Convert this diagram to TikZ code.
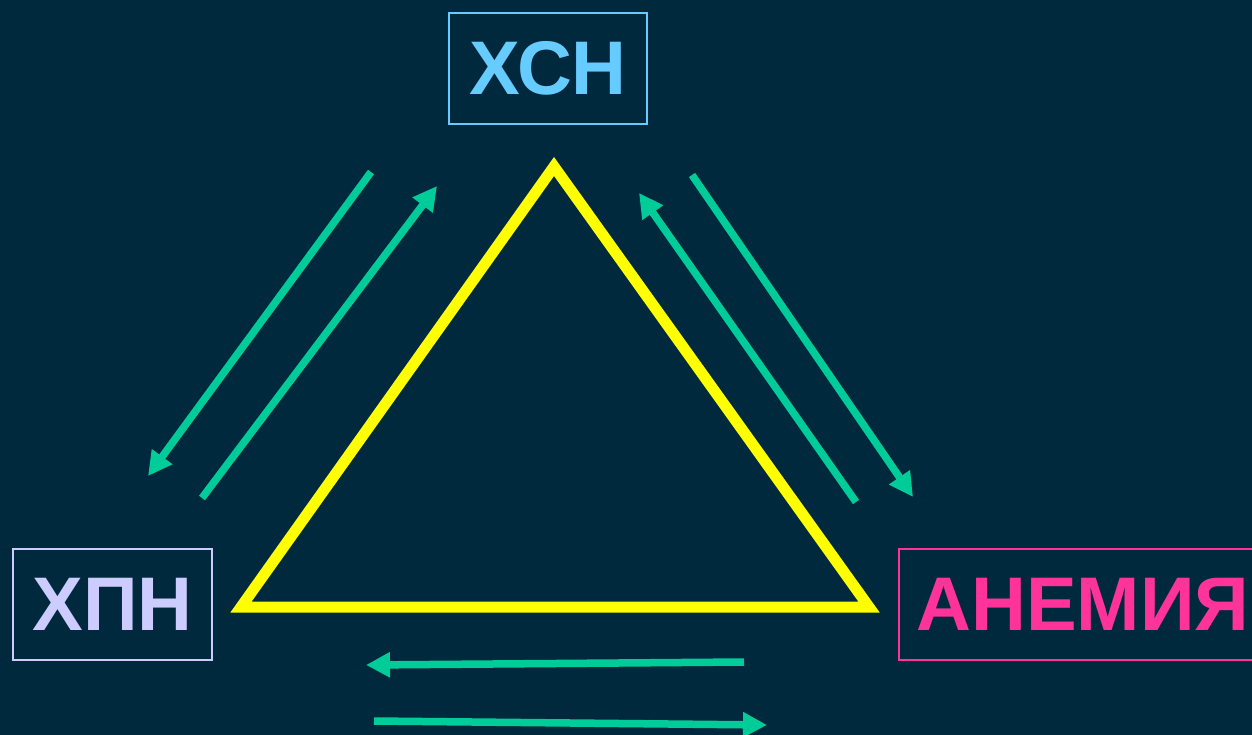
\documentclass[tikz,border=0pt]{standalone}
\usepackage{fontspec}
\setmainfont{Liberation Sans}
\usetikzlibrary{arrows.meta}
\definecolor{bg}{HTML}{00293D}
\definecolor{arrowgreen}{HTML}{00CC99}
\definecolor{triyellow}{HTML}{FFFF00}
\definecolor{csnblue}{HTML}{66CCFF}
\definecolor{hpnlav}{HTML}{CCCCFF}
\definecolor{anpink}{HTML}{FF3399}
\tikzset{
  labelbox/.style={draw, line width=2pt, minimum height=111pt, inner sep=0pt,
    font=\fontsize{76}{80}\selectfont\bfseries},
  flow/.style={draw=arrowgreen, line width=7.5pt,
    -{Triangle[length=24pt,width=24pt]}, arrowgreen}
}
\begin{document}
\begin{tikzpicture}[x=1pt,y=-1pt]
\fill[bg] (0,0) rectangle (1252,735);
\useasboundingbox (0,0) rectangle (1252,735);
\clip (0,0) rectangle (1252,735);
% boxes
\node[labelbox, draw=csnblue, text=csnblue, minimum width=198pt] (csn) at (548,68.5) {ХСН};
\node[labelbox, draw=hpnlav, text=hpnlav, minimum width=199pt] (hpn) at (112.5,604.5) {ХПН};
\node[labelbox, draw=anpink, text=anpink, minimum width=363pt] (anem) at (1080.5,604.5) {};
\node[text=anpink, font=\fontsize{76}{80}\selectfont\bfseries, inner sep=0pt] (anemtxt) at (1083,604.5) {АНЕМИЯ};
% triangle
\coordinate (ta) at (554,166.5);
\coordinate (tl) at (241,607);
\coordinate (tr) at (869,607);
\draw[triyellow, line width=11pt, line join=miter] (ta) -- (tl) -- (tr) -- cycle;
% arrow endpoints
\coordinate (a1s) at (371,172); \coordinate (a1e) at (148,476);
\coordinate (a2s) at (202,498); \coordinate (a2e) at (437,186);
\coordinate (a3s) at (692,175); \coordinate (a3e) at (913,497);
\coordinate (a4s) at (856,502); \coordinate (a4e) at (639,193);
\coordinate (a5s) at (744,662); \coordinate (a5e) at (366,665);
\coordinate (a6s) at (374,721); \coordinate (a6e) at (767,725);
\draw[flow] (a1s) -- (a1e);
\draw[flow] (a2s) -- (a2e);
\draw[flow] (a3s) -- (a3e);
\draw[flow] (a4s) -- (a4e);
\draw[flow] (a5s) -- (a5e);
\draw[flow] (a6s) -- (a6e);
\end{tikzpicture}
\end{document}
